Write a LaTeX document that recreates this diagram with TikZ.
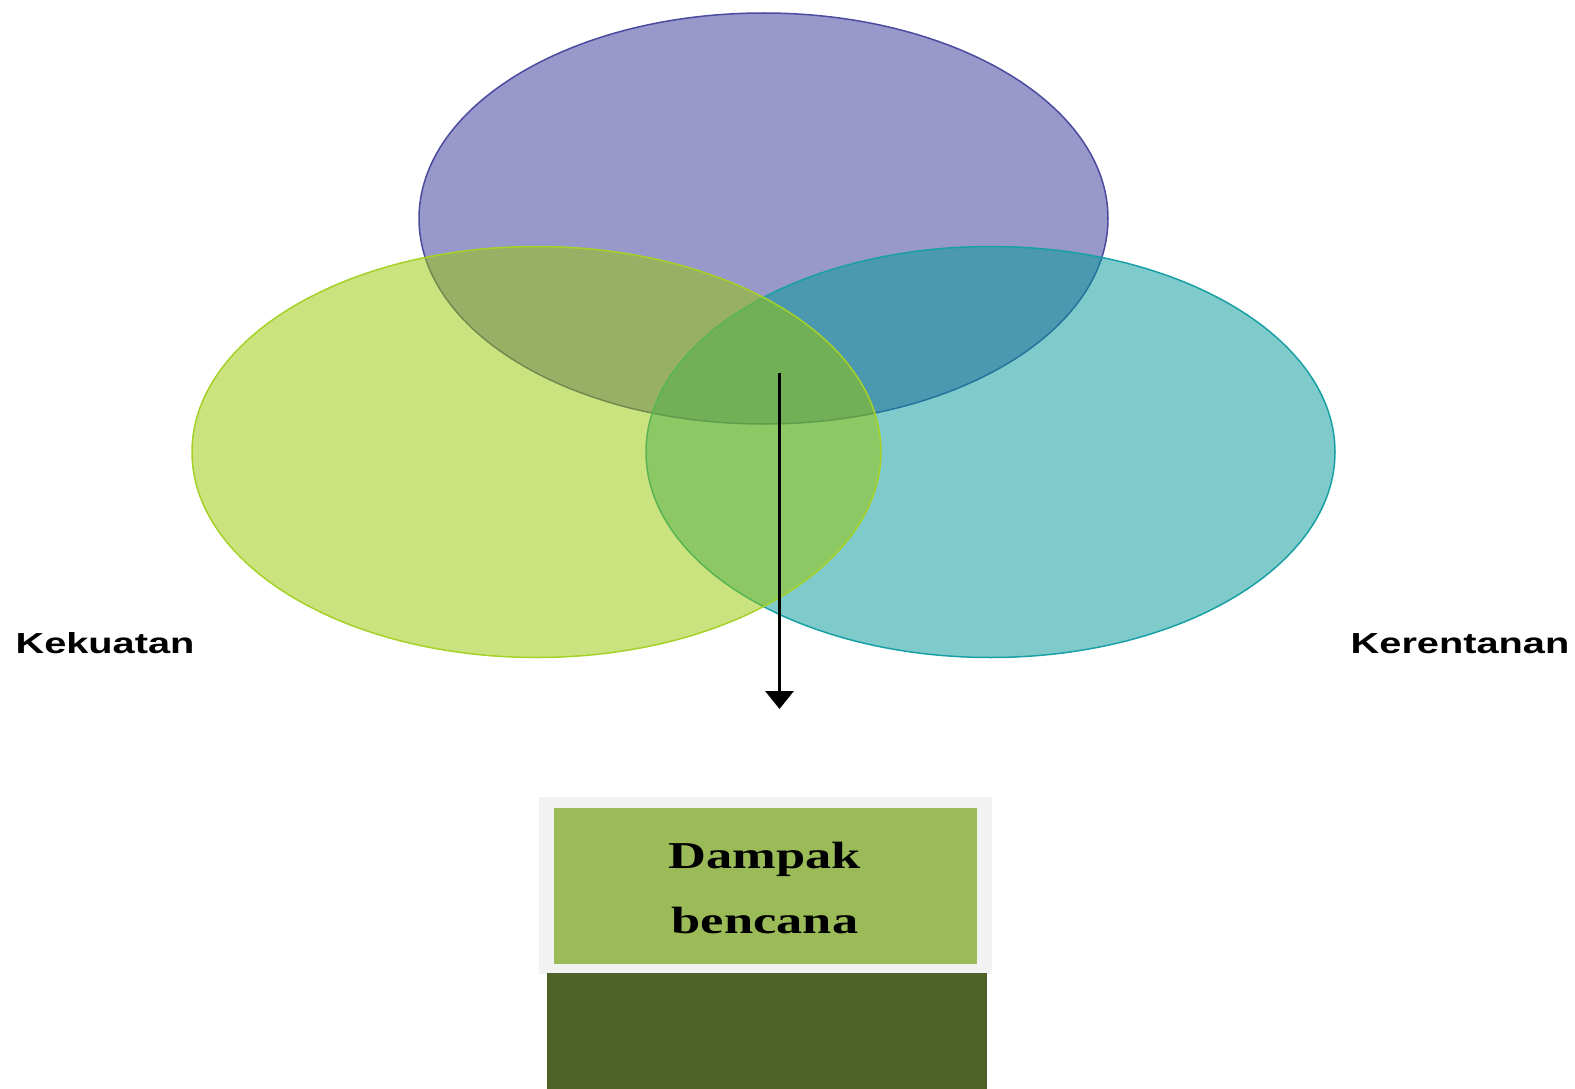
\documentclass[tikz,border=0pt]{standalone}
\usepackage{fontspec}
\setmainfont{Liberation Serif}
\setsansfont{Liberation Sans}
\usetikzlibrary{shapes.geometric,arrows.meta}
\definecolor{purpbase}{RGB}{51,51,153}
\definecolor{purpline}{RGB}{75,75,160}
\definecolor{limebase}{RGB}{153,200,0}
\definecolor{limeline}{RGB}{165,210,40}
\definecolor{tealbase}{RGB}{0,153,153}
\definecolor{tealline}{RGB}{25,160,165}
\definecolor{boxgray}{RGB}{242,242,242}
\definecolor{boxgreen}{RGB}{155,187,89}
\definecolor{boxdark}{RGB}{79,98,40}
\tikzset{
  venn/.style={ellipse, minimum width=689pt, minimum height=411pt, inner sep=0pt, line width=1.5pt, fill opacity=0.5, draw opacity=1},
  sidelabel/.style={anchor=base, font=\sffamily\bfseries\fontsize{29}{34}\selectfont, inner sep=0pt},
  boxtext/.style={anchor=base, font=\rmfamily\bfseries\fontsize{38}{44}\selectfont, inner sep=0pt},
  plainrect/.style={draw=none, inner sep=0pt}
}
\begin{document}
\begin{tikzpicture}[x=1pt,y=-1pt]
\useasboundingbox (0,0) rectangle (1575,1089);
\fill[white] (0,0) rectangle (1575,1089);
% ellipses
\node[venn, fill=purpbase, draw=purpline] (top) at (763.5,218.5) {};
\node[venn, fill=tealbase, draw=tealline] (right) at (990.5,452) {};
\node[venn, fill=limebase, draw=limeline] (left) at (536.5,452) {};
% labels
\node[sidelabel] (kek) at (105,653) {\scalebox{1.37}[1]{Kekuatan}};
\node[sidelabel] (ker) at (1460,653) {\scalebox{1.37}[1]{Kerentanan}};
% arrow
\coordinate (astart) at (779.5,373);
\coordinate (aend) at (779.5,709);
\draw[line width=3.5pt, -{Triangle[width=28pt,length=18pt]}] (astart) -- (aend);
% box
\node[plainrect, fill=boxgray, minimum width=453pt, minimum height=177pt] (outer) at (765.5,885.5) {};
\node[plainrect, fill=boxgreen, minimum width=423pt, minimum height=156pt] (inner) at (765.5,886) {};
\node[plainrect, fill=boxdark, minimum width=440pt, minimum height=118pt] (dark) at (767,1032) {};
\node[boxtext] (t1) at (765,868) {\scalebox{1.38}[1]{Dampak}};
\node[boxtext] (t2) at (765,933) {\scalebox{1.38}[1]{bencana}};
\end{tikzpicture}
\end{document}
